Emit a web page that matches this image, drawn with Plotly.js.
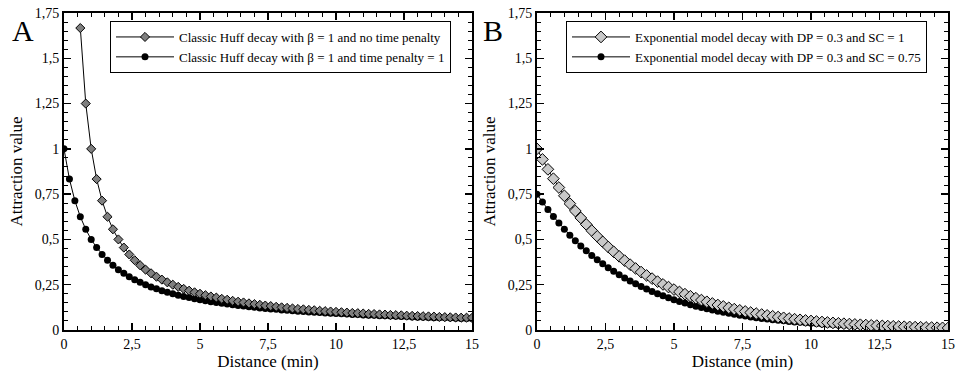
<!DOCTYPE html>
<html>
<head>
<meta charset="utf-8">
<script src="https://cdn.plot.ly/plotly-3.0.1.min.js"></script>
<style>html,body{margin:0;padding:0;background:#fff;}#chart{width:958px;height:377px;}</style>
</head>
<body>
<div id="chart"></div>
<script>
// Distances (min)
var distAll = [0,0.2,0.4,0.6,0.8,1,1.2,1.4,1.6,1.8,2,2.2,2.4,2.6,2.8,3,3.2,3.4,3.6,3.8,4,4.2,4.4,4.6,4.8,5,5.2,5.4,5.6,5.8,6,6.2,6.4,6.6,6.8,7,7.2,7.4,7.6,7.8,8,8.2,8.4,8.6,8.8,9,9.2,9.4,9.6,9.8,10,10.2,10.4,10.6,10.8,11,11.2,11.4,11.6,11.8,12,12.2,12.4,12.6,12.8,13,13.2,13.4,13.6,13.8,14,14.2,14.4,14.6,14.8,15];
var distHuffNoPenalty = [0.6,0.8,1,1.2,1.4,1.6,1.8,2,2.2,2.4,2.6,2.8,3,3.2,3.4,3.6,3.8,4,4.2,4.4,4.6,4.8,5,5.2,5.4,5.6,5.8,6,6.2,6.4,6.6,6.8,7,7.2,7.4,7.6,7.8,8,8.2,8.4,8.6,8.8,9,9.2,9.4,9.6,9.8,10,10.2,10.4,10.6,10.8,11,11.2,11.4,11.6,11.8,12,12.2,12.4,12.6,12.8,13,13.2,13.4,13.6,13.8,14,14.2,14.4,14.6,14.8,15];

// Panel A series
var huffNoPenalty = [1.667,1.25,1,0.833,0.714,0.625,0.556,0.5,0.455,0.417,0.385,0.357,0.333,0.313,0.294,0.278,0.263,0.25,0.238,0.227,0.217,0.208,0.2,0.192,0.185,0.179,0.172,0.167,0.161,0.156,0.152,0.147,0.143,0.139,0.135,0.132,0.128,0.125,0.122,0.119,0.116,0.114,0.111,0.109,0.106,0.104,0.102,0.1,0.098,0.096,0.094,0.093,0.091,0.089,0.088,0.086,0.085,0.083,0.082,0.081,0.079,0.078,0.077,0.076,0.075,0.074,0.072,0.071,0.07,0.069,0.068,0.068,0.067];
var huffPenalty = [1,0.833,0.714,0.625,0.556,0.5,0.455,0.417,0.385,0.357,0.333,0.313,0.294,0.278,0.263,0.25,0.238,0.227,0.217,0.208,0.2,0.192,0.185,0.179,0.172,0.167,0.161,0.156,0.152,0.147,0.143,0.139,0.135,0.132,0.128,0.125,0.122,0.119,0.116,0.114,0.111,0.109,0.106,0.104,0.102,0.1,0.098,0.096,0.094,0.093,0.091,0.089,0.088,0.086,0.085,0.083,0.082,0.081,0.079,0.078,0.077,0.076,0.075,0.074,0.072,0.071,0.07,0.069,0.068,0.068,0.067,0.066,0.065,0.064,0.063,0.063];

// Panel B series
var expSC1 = [1,0.9418,0.8869,0.8353,0.7866,0.7408,0.6977,0.657,0.6188,0.5827,0.5488,0.5169,0.4868,0.4584,0.4317,0.4066,0.3829,0.3606,0.3396,0.3198,0.3012,0.2837,0.2671,0.2516,0.2369,0.2231,0.2101,0.1979,0.1864,0.1755,0.1653,0.1557,0.1466,0.1381,0.13,0.1225,0.1153,0.1086,0.1023,0.0963,0.0907,0.0854,0.0805,0.0758,0.0714,0.0672,0.0633,0.0596,0.0561,0.0529,0.0498,0.0469,0.0442,0.0416,0.0392,0.0369,0.0347,0.0327,0.0308,0.029,0.0273,0.0257,0.0242,0.0228,0.0215,0.0202,0.0191,0.018,0.0169,0.0159,0.015,0.0141,0.0133,0.0125,0.0118,0.0111];
var expSC075 = [0.75,0.7063,0.6652,0.6265,0.59,0.5556,0.5233,0.4928,0.4641,0.4371,0.4116,0.3876,0.3651,0.3438,0.3238,0.3049,0.2872,0.2704,0.2547,0.2399,0.2259,0.2127,0.2003,0.1887,0.1777,0.1673,0.1576,0.1484,0.1398,0.1316,0.124,0.1168,0.11,0.1036,0.0975,0.0918,0.0865,0.0815,0.0767,0.0722,0.068,0.0641,0.0603,0.0568,0.0535,0.0504,0.0475,0.0447,0.0421,0.0396,0.0373,0.0352,0.0331,0.0312,0.0294,0.0277,0.0261,0.0245,0.0231,0.0218,0.0205,0.0193,0.0182,0.0171,0.0161,0.0152,0.0143,0.0135,0.0127,0.0119,0.0112,0.0106,0.01,0.0094,0.0088,0.0083];

var namesA = ['Classic Huff decay with \u03b2 = 1 and no time penalty','Classic Huff decay with \u03b2 = 1 and time penalty = 1'];
var namesB = ['Exponential model decay with DP = 0.3 and SC = 1','Exponential model decay with DP = 0.3 and SC = 0.75'];
var xTickVals = [0,2.5,5,7.5,10,12.5,15];
var yTickVals = [0,0.25,0.5,0.75,1,1.25,1.5,1.75];

var FONT = '"Liberation Serif", "Times New Roman", Times, serif';

var traces = [
  {x: distAll, y: huffPenalty, name: namesA[1], xaxis:'x', yaxis:'y', legend:'legend', legendrank:2,
   mode:'lines+markers', line:{color:'#000', width:1},
   marker:{symbol:'circle', size:7, color:'#000', line:{color:'#000', width:0}}},
  {x: distHuffNoPenalty, y: huffNoPenalty, name: namesA[0], xaxis:'x', yaxis:'y', legend:'legend', legendrank:1,
   mode:'lines+markers', line:{color:'#000', width:1},
   marker:{symbol:'diamond', size:7, color:'#7f7f7f', line:{color:'#000', width:1}}},
  {x: distAll, y: expSC075, name: namesB[1], xaxis:'x2', yaxis:'y2', legend:'legend2', legendrank:2,
   mode:'lines+markers', line:{color:'#000', width:1},
   marker:{symbol:'circle', size:7, color:'#000', line:{color:'#000', width:0}}},
  {x: distAll, y: expSC1, name: namesB[0], xaxis:'x2', yaxis:'y2', legend:'legend2', legendrank:1,
   mode:'lines+markers', line:{color:'#000', width:1},
   marker:{symbol:'diamond', size:9, color:'#c8c8c8', line:{color:'#000', width:1}}}
];

function xax(dom, anchor){
  return {domain:dom, anchor:anchor, range:[0,15], tickvals:xTickVals, ticks:'inside', ticklen:7, tickwidth:1.5,
    tickcolor:'#000', showline:true, linecolor:'#000', linewidth:2, mirror:'allticks', showgrid:false, zeroline:false,
    tickfont:{family:FONT, size:14, color:'#000'},
    minor:{dtick:0.5, ticks:'inside', ticklen:4, tickwidth:1, tickcolor:'#000', showgrid:false},
    title:{text:'Distance (min)', font:{family:FONT, size:17, color:'#000'}, standoff:4}};
}
function yax(anchor){
  return {domain:[0.1247,0.9655], anchor:anchor, range:[0,1.75], tickvals:yTickVals, ticks:'inside', ticklen:7, tickwidth:1.5,
    tickcolor:'#000', showline:true, linecolor:'#000', linewidth:2, mirror:'allticks', showgrid:false, zeroline:false,
    tickfont:{family:FONT, size:14, color:'#000'},
    minor:{dtick:0.05, ticks:'inside', ticklen:4, tickwidth:1, tickcolor:'#000', showgrid:false},
    title:{text:'Attraction value', font:{family:FONT, size:17, color:'#000'}, standoff:8}};
}

var legendStyle = function(x){
  return {x:x, y:1-21/377, xanchor:'left', yanchor:'top', bgcolor:'#fff', bordercolor:'#000', borderwidth:1,
    font:{family:FONT, size:13, color:'#000'}, itemwidth:58, tracegroupgap:0};
};

var layout = {
  width:958, height:377, margin:{l:0, r:0, t:0, b:0},
  paper_bgcolor:'#fff', plot_bgcolor:'#fff', separators:',.', showlegend:true,
  font:{family:FONT, color:'#000'},
  xaxis: xax([0.0668,0.4927],'y'),
  yaxis: yax('x'),
  xaxis2: xax([0.5605,0.9896],'y2'),
  yaxis2: yax('x2'),
  legend: legendStyle(110/958),
  legend2: legendStyle(566/958),
  annotations:[
    {text:'A', xref:'paper', yref:'paper', x:10/958, y:1-12/377, xanchor:'left', yanchor:'top', showarrow:false, font:{family:FONT, size:30, color:'#000'}},
    {text:'B', xref:'paper', yref:'paper', x:481/958, y:1-12/377, xanchor:'left', yanchor:'top', showarrow:false, font:{family:FONT, size:30, color:'#000'}}
  ]
};

Plotly.newPlot('chart', traces, layout, {displayModeBar:false, staticPlot:true});
</script>
</body>
</html>
